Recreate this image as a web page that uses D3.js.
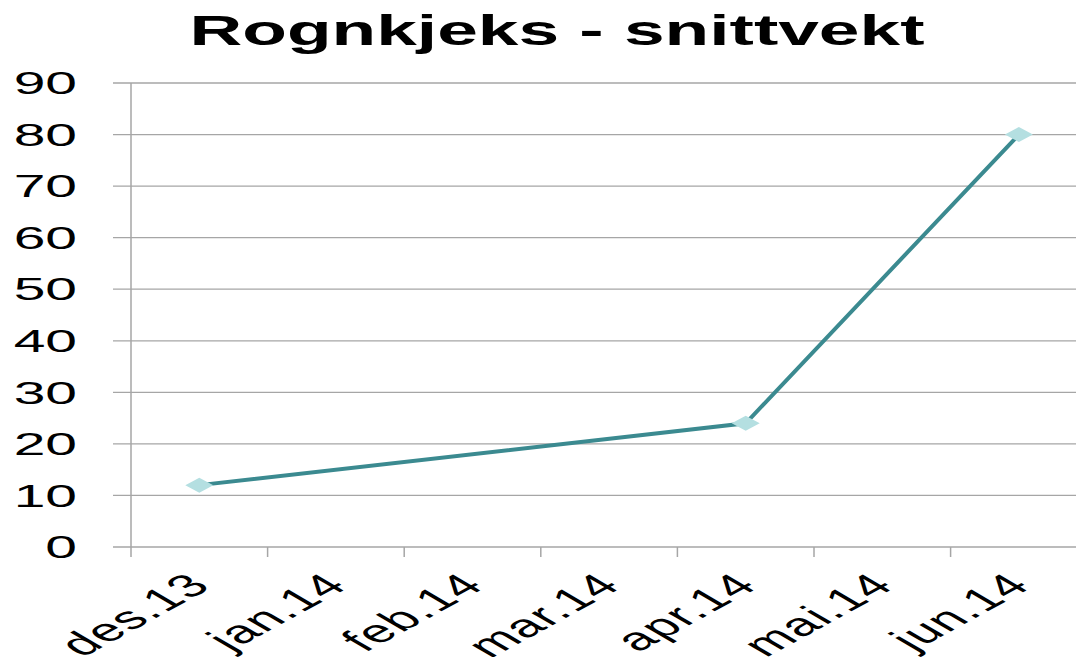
<!DOCTYPE html>
<html><head><meta charset="utf-8">
<script src="https://cdn.jsdelivr.net/npm/d3@7"></script>
<style>body{margin:0;background:#fff}svg{display:block}</style>
</head><body>
<svg id="c" width="1076" height="657"></svg>
<script>
const title = "Rognkjeks - snittvekt";
const categories = ["des.13","jan.14","feb.14","mar.14","apr.14","mai.14","jun.14"];
const values = [12, null, null, null, 24, null, 80];
const yTicks = [0,10,20,30,40,50,60,70,80,90];

const SX = 1.78; // horizontal stretch of the original picture
const svg = d3.select("#c");
const mLeft = 131, mTop = 83, mBottom = 547, bandW = 136.6;
const x = d3.scaleBand().domain(categories).range([mLeft, mLeft + bandW*categories.length]).paddingInner(0).paddingOuter(0);
const y = d3.scaleLinear().domain([0,90]).range([mBottom, mTop]);

// gridlines
svg.append("g").selectAll("line").data(yTicks).join("line")
  .attr("x1", mLeft-18).attr("x2", 1076)
  .attr("y1", d=>y(d)).attr("y2", d=>y(d))
  .attr("stroke", "#a6a6a6").attr("stroke-width", 1.3);
// y axis line
svg.append("line").attr("x1",mLeft).attr("x2",mLeft).attr("y1",mTop).attr("y2",mBottom+10)
  .attr("stroke","#a6a6a6").attr("stroke-width",1.5);
// x ticks
const xt = categories.map(c=>x(c)).concat([x(categories[categories.length-1])+bandW]);
svg.append("g").selectAll("line").data(xt.slice(1)).join("line")
  .attr("x1",d=>d).attr("x2",d=>d).attr("y1",mBottom).attr("y2",mBottom+10)
  .attr("stroke","#a6a6a6").attr("stroke-width",1.5);

// y labels
svg.append("g").selectAll("text").data(yTicks).join("text")
  .attr("transform", d=>`translate(77,${y(d)}) scale(${SX},1)`)
  .attr("text-anchor","end").attr("dy","0.35em")
  .attr("font-family","Liberation Sans, Arial, sans-serif").attr("font-size",32)
  .attr("fill","#000").text(d=>d);

// x labels
svg.append("g").selectAll("text").data(categories).join("text")
  .attr("transform", d=>`translate(${x(d)+bandW/2+14},${mBottom+40}) scale(${SX},1) rotate(-44)`)
  .attr("text-anchor","end").attr("letter-spacing","1")
  .attr("font-family","Liberation Sans, Arial, sans-serif").attr("font-size",32)
  .attr("fill","#000").text(d=>d);

// title
svg.append("text").attr("transform",`translate(557,45) scale(1.74,1)`)
  .attr("text-anchor","middle").attr("font-family","Liberation Sans, Arial, sans-serif")
  .attr("font-weight","bold").attr("font-size",42).attr("fill","#000").text(title);

// line
const pts = categories.map((c,i)=>({c, v:values[i]})).filter(d=>d.v!=null);
const line = d3.line().x(d=>x(d.c)+bandW/2).y(d=>y(d.v));
svg.append("path").datum(pts).attr("d",line).attr("fill","none")
  .attr("stroke","#3b8a90").attr("stroke-width",4);
// markers
svg.append("g").selectAll("path").data(pts).join("path")
  .attr("transform", d=>`translate(${x(d.c)+bandW/2},${y(d.v)})`)
  .attr("d","M-14,0L0,-7.5L14,0L0,7.5Z").attr("fill","#b4dfe1");
</script>
</body></html>
